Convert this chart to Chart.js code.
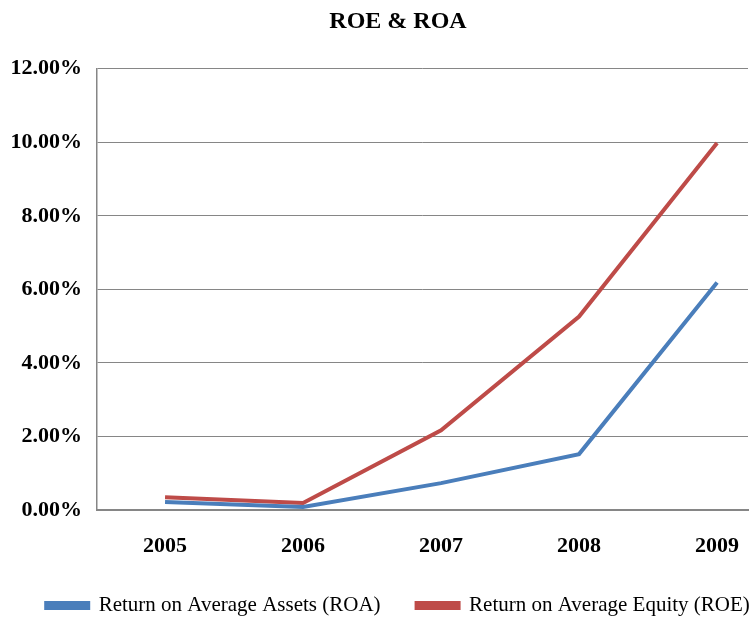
<!DOCTYPE html>
<html>
<head>
<meta charset="utf-8">
<script src="https://cdn.jsdelivr.net/npm/chart.js@4/dist/chart.umd.min.js"></script>
<style>
  html, body { margin: 0; padding: 0; background: #fff; }
  #wrap { width: 751px; height: 618px; }
</style>
</head>
<body>
<div id="wrap"><canvas id="roeRoa"></canvas></div>
<script>
// du lieu doc tu hinh
const years = [2005, 2006, 2007, 2008, 2009];
const roa = [0.22, 0.08, 0.73, 1.52, 6.19];
const roe = [0.35, 0.19, 2.17, 5.26, 9.98];
const yTicks = [0, 2, 4, 6, 8, 10, 12];

const serif = "'Liberation Serif', 'Times New Roman', serif";

const dataConfig = {
  datasets: [
    {
      label: "Return on Average Assets (ROA)",
      data: years.map((y, i) => ({ x: y, y: roa[i] })),
      borderColor: "#4A7EBB",
      backgroundColor: "#4A7EBB",
      borderWidth: 4,
      pointRadius: 0,
      tension: 0,
    },
    {
      label: "Return on Average Equity (ROE)",
      data: years.map((y, i) => ({ x: y, y: roe[i] })),
      borderColor: "#BE4B48",
      backgroundColor: "#BE4B48",
      borderWidth: 4,
      pointRadius: 0,
      tension: 0,
    },
  ],
};

const config = {
  type: "line",
  data: dataConfig,
  options: {
    responsive: true,
    maintainAspectRatio: false,
    animation: false,
    // right am: tieu de va chu thich lech sang phai nhu hinh goc
    layout: { padding: { left: 10, right: -35, top: 0, bottom: -8 } },
    plugins: {
      title: {
        display: true,
        text: "ROE & ROA",
        color: "#000",
        font: { family: serif, size: 24, weight: "bold" },
        padding: { top: 7, bottom: 33 },
      },
      legend: {
        position: "bottom",
        labels: {
          color: "#000",
          font: { family: serif, size: 21 },
          boxWidth: 42,
          boxHeight: 5,
          padding: 36,
        },
      },
      tooltip: { enabled: false },
    },
    scales: {
      x: {
        type: "linear",
        min: 2004.507,
        max: 2009.224,
        afterBuildTicks: (scale) => {
          scale.ticks = years.map((v) => ({ value: v }));
        },
        afterFit: (scale) => {
          scale.height = 49;
          scale.paddingRight = 3;
        },
        ticks: {
          color: "#000",
          font: { family: serif, size: 22, weight: "bold" },
          padding: 15,
          maxRotation: 0,
          callback: (v) => String(v),
        },
        grid: { display: false },
        border: { color: "#868686", width: 2 },
      },
      y: {
        min: 0,
        max: 12,
        afterBuildTicks: (scale) => {
          scale.ticks = yTicks.map((v) => ({ value: v }));
        },
        afterFit: (scale) => {
          scale.width = 87;
        },
        ticks: {
          color: "#000",
          font: { family: serif, size: 22, weight: "bold" },
          padding: 15,
          callback: (v) => v.toFixed(2) + "%",
        },
        grid: { color: "#868686", lineWidth: 1, drawTicks: false },
        border: { color: "#868686", width: 1.5 },
      },
    },
  },
};

const roeRoaChart = new Chart(document.getElementById("roeRoa"), config);
</script>
</body>
</html>
